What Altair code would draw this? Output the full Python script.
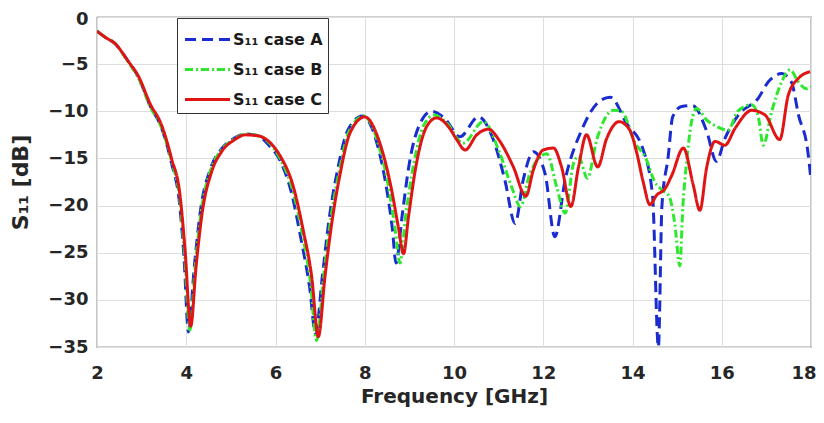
import altair as alt
import pandas as pd

# ---- data ----
freq_a = [2.0, 2.2, 2.4, 2.7, 2.93, 3.19, 3.45, 3.67, 3.85, 3.95, 4.05, 4.18, 4.32, 4.55, 4.79, 5.09, 5.32, 5.61, 5.85, 6.1,
          6.35, 6.57, 6.76, 6.9, 7.05, 7.2, 7.4, 7.62, 7.95, 8.28, 8.5, 8.62, 8.7, 8.84, 9.0, 9.22, 9.5, 9.8, 10.13, 10.55,
          10.88, 11.14, 11.37, 11.55, 11.78, 12.04, 12.26, 12.49, 12.86, 13.2, 13.5, 13.87, 14.24, 14.45, 14.58, 14.66,
          14.8, 14.9, 15.1, 15.35, 15.66, 15.88, 16.07, 16.37, 16.82, 17.04, 17.34, 17.56, 17.72, 17.93, 18.0]
s11_a = [-1.5, -2.2, -2.8, -4.7, -6.4, -9.4, -11.8, -15.5, -19.8, -25.5, -33.4, -26.5, -20.5, -16.0, -14.0, -12.8, -12.4, -12.6, -13.6, -15.2,
         -18.5, -23.5, -28.5, -33.6, -27.5, -21.5, -16.0, -12.0, -10.5, -13.5, -18.5, -22.5, -26.1, -21.0, -15.5, -11.5, -10.0, -10.8, -12.7, -10.6,
         -13.0, -17.3, -21.9, -17.3, -14.3, -16.6, -23.3, -17.3, -12.0, -9.2, -8.5, -11.3, -14.1, -19.0, -35.0, -20.0,
         -14.8, -10.6, -9.5, -9.4, -12.1, -15.3, -12.9, -10.4, -8.6, -6.9, -6.0, -6.9, -10.4, -14.3, -17.3]

freq_b = [2.0, 2.2, 2.4, 2.7, 2.93, 3.19, 3.45, 3.67, 3.86, 3.96, 4.08, 4.2, 4.33, 4.55, 4.79, 5.09, 5.32, 5.61, 5.87, 6.1,
          6.38, 6.6, 6.78, 6.92, 7.08, 7.23, 7.43, 7.65, 7.98, 8.3, 8.55, 8.68, 8.79, 8.92, 9.1, 9.32, 9.56, 9.85, 10.2, 10.66,
          11.03, 11.29, 11.49, 11.7, 12.08, 12.3, 12.49, 12.68, 12.79, 12.99, 13.2, 13.57, 13.75, 14.05, 14.3, 14.5, 14.65,
          14.82, 14.95, 15.06, 15.13, 15.21, 15.32, 15.44, 15.66, 15.88, 16.14, 16.36, 16.67, 16.82, 16.93, 17.12, 17.34,
          17.53, 17.72, 17.9, 18.0]
s11_b = [-1.5, -2.2, -2.8, -4.8, -6.5, -9.5, -11.8, -15.3, -19.5, -25.0, -33.2, -26.5, -20.8, -16.2, -14.1, -12.9, -12.4, -12.6, -13.4, -15.0,
         -18.3, -23.0, -28.0, -34.3, -27.5, -21.7, -16.3, -12.1, -10.5, -13.4, -18.5, -22.5, -26.1, -21.0, -15.5, -11.5, -10.4, -11.3, -13.4, -11.1,
         -14.5, -18.0, -20.1, -16.6, -14.5, -18.0, -20.8, -15.5, -14.8, -17.1, -13.0, -9.9, -10.0, -13.3, -15.0, -17.5, -18.3,
         -19.0, -22.0, -26.4, -20.0, -15.5, -11.2, -9.7, -10.9, -11.6, -12.0, -10.0, -9.3, -10.6, -13.6, -10.0, -6.9,
         -5.6, -6.9, -7.6, -7.4]

freq_c = [2.0, 2.2, 2.4, 2.7, 2.93, 3.19, 3.45, 3.67, 3.86, 3.97, 4.1, 4.22, 4.35, 4.57, 4.79, 5.09, 5.32, 5.61, 5.85, 6.1,
          6.4, 6.62, 6.81, 6.96, 7.11, 7.26, 7.45, 7.67, 8.0, 8.34, 8.6, 8.75, 8.87, 8.98, 9.16, 9.39, 9.61, 9.9, 10.06, 10.25,
          10.51, 10.77, 11.03, 11.33, 11.61, 11.78, 12.0, 12.23, 12.41, 12.62, 12.79, 12.97, 13.22, 13.42, 13.7, 13.94,
          14.09, 14.24, 14.39, 14.54, 14.73, 14.88, 15.14, 15.36, 15.51, 15.66, 15.85, 16.07, 16.3, 16.67, 16.97, 17.3,
          17.49, 17.72, 17.98]
s11_c = [-1.5, -2.2, -2.8, -4.7, -6.3, -9.2, -11.5, -15.0, -18.9, -24.5, -32.8, -26.5, -21.0, -16.4, -14.3, -13.0, -12.5, -12.6, -13.2, -14.7,
         -18.0, -22.6, -27.5, -33.9, -27.5, -21.9, -16.6, -12.3, -10.6, -13.4, -18.3, -22.2, -25.1, -21.2, -15.5, -11.6, -10.7, -11.8, -13.0, -14.1,
         -12.5, -11.9, -13.2, -15.9, -19.0, -16.2, -14.1, -13.9, -15.9, -20.1, -15.9, -12.5, -15.9, -12.9, -11.1, -12.0,
         -14.3, -17.5, -19.9, -18.9, -18.2, -16.8, -13.9, -17.8, -20.5, -16.0, -13.2, -13.6, -11.8, -9.9, -10.4, -13.0,
         -8.3, -6.5, -5.8]

labels = ["S₁₁ case A", "S₁₁ case B", "S₁₁ case C"]
colors = ["#1a2bd0", "#2ee82e", "#e01414"]
dashes = [[11, 6], [8, 3, 2, 3], [1, 0]]
x_ticks = [2, 4, 6, 8, 10, 12, 14, 16, 18]
y_ticks = [-35, -30, -25, -20, -15, -10, -5, 0]

df = pd.concat([
    pd.DataFrame({"freq": f, "s11": s, "case": lab})
    for f, s, lab in zip([freq_a, freq_b, freq_c], [s11_a, s11_b, s11_c], labels)
])

FONT = "DejaVu Sans"

legend = alt.Legend(
    title=None, orient="none", legendX=80, legendY=1,
    symbolType="M-1.5,0H1.5", symbolSize=900, symbolStrokeWidth=3,
    symbolOffset=9, labelOffset=9,
    labelFont=FONT, labelFontSize=16, labelFontWeight="bold", labelColor="#1a1a1a",
    strokeColor="#333333", fillColor="white", padding=5, rowPadding=5, cornerRadius=0,
)

base = alt.Chart(df).mark_line(strokeWidth=3, interpolate="monotone", clip=True).encode(
    x=alt.X("freq:Q", scale=alt.Scale(domain=[2, 18], nice=False),
            axis=alt.Axis(values=x_ticks, title="Frequency [GHz]", labelPadding=17, titlePadding=4,
                          titleFontSize=20, labelFlush=False,
                          labelAlign={"expr": "datum.value == 18 ? 'right' : 'center'"},
                          labelOffset={"expr": "datum.value == 18 ? 5 : 0"})),
    y=alt.Y("s11:Q", scale=alt.Scale(domain=[-35, 0], nice=False),
            axis=alt.Axis(values=y_ticks, title="S₁₁ [dB]", labelPadding=9, titlePadding=15,
                          titleFontSize=22, labelFlush=False,
                          labelOffset={"expr": "datum.value == 0 ? 2 : 0"})),
    color=alt.Color("case:N", scale=alt.Scale(domain=labels, range=colors), legend=legend),
    strokeDash=alt.StrokeDash("case:N", scale=alt.Scale(domain=labels, range=dashes), legend=legend),
)

layers = [base.transform_filter(alt.datum.case == lab) for lab in labels]

chart = alt.layer(*layers).properties(
    width=714, height=330,
    autosize=alt.AutoSizeParams(type="none"),
    padding={"left": 89, "top": 9, "right": 5, "bottom": 60},
).configure_view(
    stroke="#444444", strokeWidth=1.2
).configure_axis(
    domain=False, ticks=False,
    grid=True, gridColor="#dedede", gridWidth=1,
    labelFont=FONT, labelFontSize=18, labelFontWeight="bold", labelColor="#262626",
    titleFont=FONT, titleFontWeight="bold", titleColor="#262626",
)

chart.save("out.html", embed_options={"renderer": "svg", "actions": False})
